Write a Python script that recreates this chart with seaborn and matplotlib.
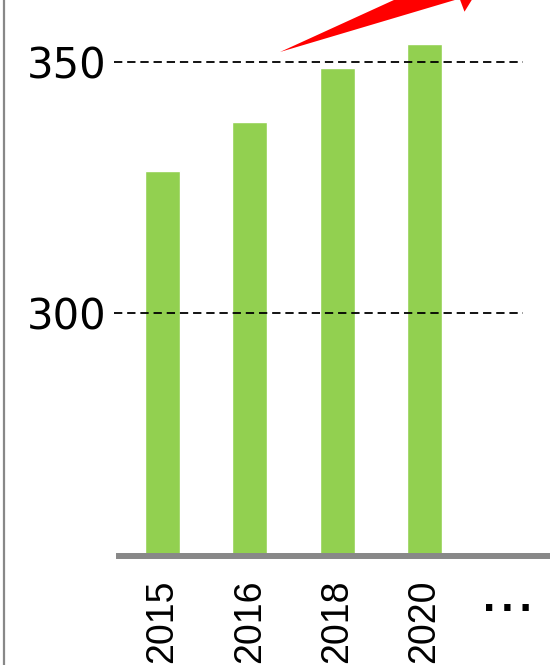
import matplotlib
matplotlib.use("Agg")
import matplotlib.pyplot as plt
from matplotlib.patches import Polygon
from matplotlib.lines import Line2D
import seaborn as sns
import pandas as pd

# ---- data ----
categories = ["2015", "2016", "2018", "2020"]
values = [328.3, 338.0, 348.8, 353.6]
ytick_values = [300, 350]
ytick_labels = ["300", "350"]
more_label = "..."

sns.set_theme(style="white")
plt.rcParams["font.family"] = ["DejaVu Sans"]

W, H = 550, 665
fig = plt.figure(figsize=(W / 100, H / 100), dpi=100)
ax_left = 119 / W
ax_bottom = (H - 556) / H
ax = fig.add_axes([ax_left, ax_bottom, 1 - ax_left, 1 - ax_bottom])

df = pd.DataFrame({"year": categories, "value": values})
sns.barplot(data=df, x="year", y="value", color="#92D050", saturation=1,
            width=0.4, ax=ax, zorder=1)

ax.set_xlim(-0.5, 4.44)
ax.set_ylim(251.6, 362.35)
ax.set_xlabel("")
ax.set_ylabel("")

# dashed guides
for v in ytick_values:
    ax.axhline(v, xmin=(114 - 119) / 431, xmax=(523 - 119) / 431,
               color="black", lw=1.3, dashes=(4.6, 2.7), clip_on=False, zorder=3)

ax.set_yticks(ytick_values)
ax.set_yticklabels(ytick_labels, fontsize=30, color="black")
ax.tick_params(axis="y", length=0, pad=9)
ax.set_xticks(range(len(categories)))
ax.set_xticklabels(categories, rotation=90, fontsize=27, color="black",
                   family="Liberation Sans", va="top", ha="center")
ax.tick_params(axis="x", length=0, pad=17)

for s in ["left", "right", "top"]:
    ax.spines[s].set_visible(False)
ax.spines["bottom"].set_color("#888888")
ax.spines["bottom"].set_linewidth(4.3)
ax.spines["bottom"].set_zorder(4)

# ellipsis after the last category
fig.text(507 / W, 1 - 611 / H, more_label, fontsize=47, family="Liberation Sans",
         ha="center", va="baseline", color="black")

# left frame line
fig.add_artist(Line2D([4 / W, 4 / W], [0, 1], color="#888888", lw=1.6,
                      transform=fig.transFigure))

# red trend arrow (pixel coords, y down)
pts = [(280, 52), (459.6, -1.4), (464.5, 11.7), (487.8, -25.9),
       (445.5, -38.9), (450.4, -25.8)]
pts_f = [(x / W, 1 - y / H) for x, y in pts]
fig.add_artist(Polygon(pts_f, closed=True, facecolor="#FF0000", edgecolor="none",
                       transform=fig.transFigure, clip_on=False, zorder=5))

fig.savefig("out.png", dpi=100)
